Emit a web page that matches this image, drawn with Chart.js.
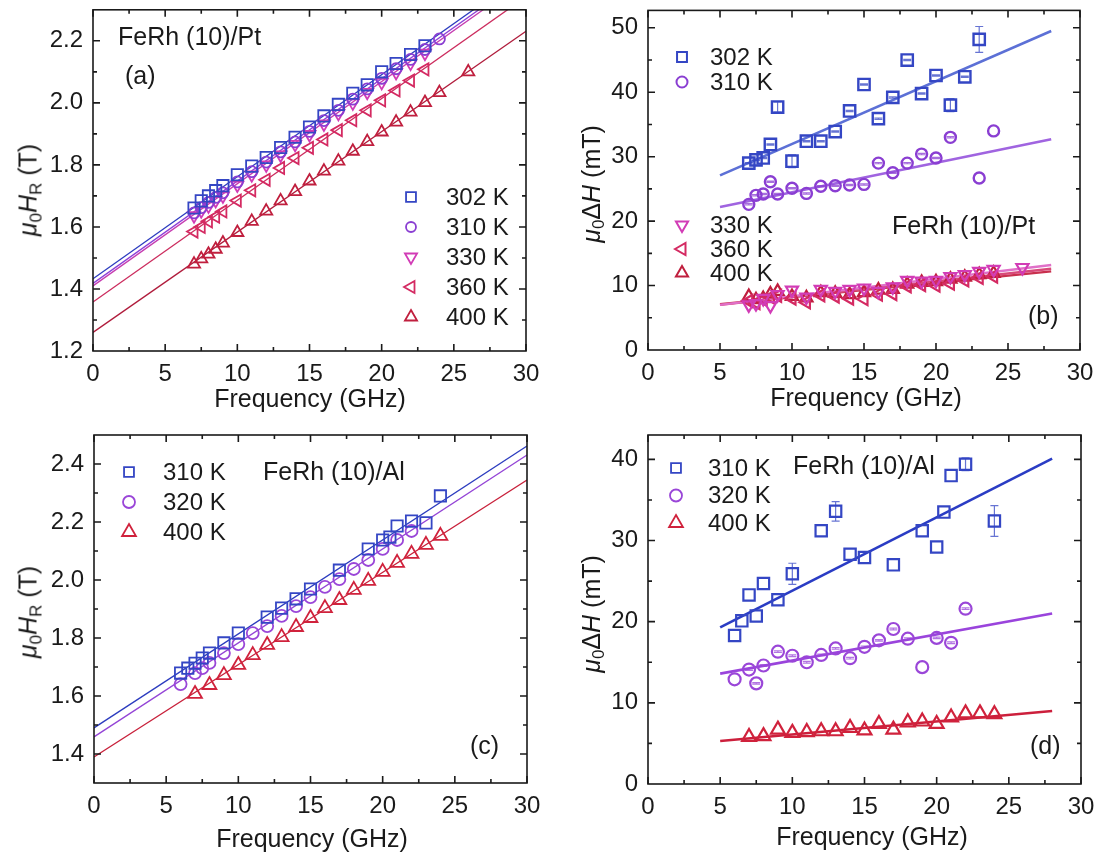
<!DOCTYPE html>
<html>
<head>
<meta charset="utf-8">
<title>FeRh FMR</title>
<script src="https://cdn.jsdelivr.net/npm/chart.js@4.4.1/dist/chart.umd.min.js"></script>
<style>
  body { margin: 0; background: #fff; }
  #page { position: relative; width: 1102px; height: 859px; overflow: hidden;
          font-family: 'Liberation Sans', Arial, sans-serif; color: #1a1a1a; }
  #page canvas { position: absolute; left: 0; top: 0; }
  .ytitle, .xtitle { position: absolute; font-size: 25px; white-space: nowrap; line-height: 1; }
  .ytitle { transform: translate(-50%, -50%) rotate(-90deg); }
  .xtitle { transform: translate(-50%, -50%); }
  sub { font-size: 0.68em; vertical-align: -0.28em; line-height: 0; }
</style>
</head>
<body>
<div id="page">
  <canvas id="panelA" width="1102" height="859"></canvas>
  <canvas id="panelB" width="1102" height="859"></canvas>
  <canvas id="panelC" width="1102" height="859"></canvas>
  <canvas id="panelD" width="1102" height="859"></canvas>

  <div class="ytitle" style="left:28px; top:190px"><i>μ</i><sub>0</sub><i>H</i><sub>R</sub> (T)</div>
  <div class="ytitle" style="left:591px; top:184px"><i>μ</i><sub>0</sub>Δ<i>H</i> (mT)</div>
  <div class="ytitle" style="left:28px; top:612px"><i>μ</i><sub>0</sub><i>H</i><sub>R</sub> (T)</div>
  <div class="ytitle" style="left:591px; top:614px"><i>μ</i><sub>0</sub>Δ<i>H</i> (mT)</div>

  <div class="xtitle" style="left:310px; top:398px">Frequency (GHz)</div>
  <div class="xtitle" style="left:866px; top:397px">Frequency (GHz)</div>
  <div class="xtitle" style="left:312px; top:838px">Frequency (GHz)</div>
  <div class="xtitle" style="left:872px; top:836px">Frequency (GHz)</div>
</div>

<script>
// ---- (a) resonance field, FeRh(10)/Pt ----
const aFreq302 = [7, 7.5, 8, 8.5, 9, 10, 11, 12, 13, 14, 15, 16, 17, 18, 19, 20, 21, 22, 23];
const aHr302   = [1.661, 1.684, 1.700, 1.717, 1.733, 1.768, 1.796, 1.824, 1.856, 1.889, 1.922, 1.958, 1.995, 2.031, 2.058, 2.100, 2.127, 2.156, 2.184];
const aFreq310 = [7, 7.5, 8, 8.5, 9, 10, 11, 12, 13, 14, 15, 16, 17, 18, 19, 20, 21, 22, 23, 24];
const aHr310   = [1.645, 1.662, 1.679, 1.695, 1.710, 1.745, 1.778, 1.809, 1.842, 1.874, 1.908, 1.943, 1.976, 2.012, 2.045, 2.079, 2.110, 2.140, 2.172, 2.206];
const aFreq330 = [7, 7.5, 8, 8.5, 9, 10, 11, 12, 13, 14, 15, 16, 17, 18, 19, 20, 21, 22, 23];
const aHr330   = [1.636, 1.652, 1.668, 1.685, 1.700, 1.735, 1.768, 1.800, 1.832, 1.866, 1.898, 1.932, 1.966, 2.000, 2.034, 2.066, 2.098, 2.128, 2.160];
const aFreq360 = [7, 7.5, 8, 8.5, 9, 10, 11, 12, 13, 14, 15, 16, 17, 18, 19, 20, 21, 22, 23];
const aHr360   = [1.585, 1.600, 1.618, 1.633, 1.650, 1.685, 1.718, 1.752, 1.790, 1.822, 1.855, 1.882, 1.912, 1.944, 1.976, 2.008, 2.040, 2.072, 2.108];
const aFreq400 = [7, 7.5, 8, 8.5, 9, 10, 11, 12, 13, 14, 15, 16, 17, 18, 19, 20, 21, 22, 23, 24, 26];
const aHr400   = [1.480, 1.497, 1.512, 1.528, 1.548, 1.582, 1.618, 1.651, 1.684, 1.714, 1.748, 1.780, 1.812, 1.844, 1.875, 1.906, 1.938, 1.970, 2.001, 2.033, 2.100];
// Kittel fits, value at 0 and 30 GHz
const aFitFreq = [0, 30];
const aFit302 = [1.433, 2.420];
const aFit310 = [1.418, 2.408];
const aFit330 = [1.410, 2.398];
const aFit360 = [1.358, 2.342];
const aFit400 = [1.260, 2.231];
const aXTicks = [0, 5, 10, 15, 20, 25, 30];
const aYTicks = [1.2, 1.4, 1.6, 1.8, 2.0, 2.2];

// ---- (b) linewidth, FeRh(10)/Pt ----
const bFreq302 = [7, 7.5, 8, 8.5, 9, 10, 11, 12, 13, 14, 15, 16, 17, 18, 19, 20, 21, 22, 23];
const bDH302   = [29.0, 29.5, 29.8, 31.9, 37.7, 29.3, 32.4, 32.4, 33.9, 37.1, 41.2, 35.9, 39.2, 45.0, 39.8, 42.6, 38.0, 42.4, 48.2];
const bErr302  = [0.1, 0.1, 0.1, 0.1, 0.8, 1.0, 0.1, 0.1, 0.1, 0.1, 0.1, 0.1, 0.1, 0.1, 0.1, 0.1, 1.0, 0.1, 2.0];
const bFreq310 = [7, 7.5, 8, 8.5, 9, 10, 11, 12, 13, 14, 15, 16, 17, 18, 19, 20, 21, 23, 24];
const bDH310   = [22.6, 24.0, 24.2, 26.1, 24.2, 25.1, 24.3, 25.4, 25.5, 25.6, 25.7, 29.0, 27.5, 29.0, 30.4, 29.8, 33.0, 26.7, 34.0];
const bErr310  = [0.1, 0.1, 0.1, 0.1, 0.1, 0.1, 0.1, 0.1, 0.1, 0.1, 0.1, 0.1, 0.1, 0.1, 0.1, 0.1, 0.1, 0, 0];
const bFreq330 = [7, 7.5, 8, 8.5, 9, 10, 11, 12, 13, 14, 15, 16, 17, 18, 19, 20, 21, 22, 23, 24, 26];
const bDH330   = [7.0, 7.2, 8.0, 6.9, 8.6, 9.3, 8.2, 9.4, 9.1, 9.4, 9.6, 9.1, 9.8, 10.8, 10.7, 10.8, 11.4, 11.7, 12.2, 12.5, 12.8];
const bFreq360 = [7, 7.5, 8, 8.5, 9, 10, 11, 12, 13, 14, 15, 16, 17, 18, 19, 20, 21, 22, 23, 24];
const bDH360   = [7.6, 7.3, 7.8, 8.2, 8.4, 8.0, 7.4, 8.5, 8.3, 8.0, 7.9, 8.6, 8.7, 9.9, 10.1, 10.0, 10.3, 10.8, 11.2, 11.4];
const bFreq400 = [7, 7.5, 8, 8.5, 9, 10, 11, 12, 13, 14, 15, 16, 17, 18, 19, 20, 21, 22, 23, 24];
const bDH400   = [8.3, 7.8, 8.0, 8.7, 9.1, 8.3, 8.1, 8.9, 8.8, 8.6, 8.9, 9.3, 9.4, 10.2, 10.5, 10.6, 11.0, 11.3, 11.7, 11.9];
// linear damping fits, value at 5 and 28 GHz
const bFitFreq = [5, 28];
const bFit302 = [27.1, 49.5];
const bFit310 = [22.2, 32.7];
const bFit330 = [7.0, 13.2];
const bFit360 = [7.0, 12.6];
const bFit400 = [7.1, 12.2];
const bXTicks = [0, 5, 10, 15, 20, 25, 30];
const bYTicks = [0, 10, 20, 30, 40, 50];

// ---- (c) resonance field, FeRh(10)/Al ----
const cFreq310 = [6, 6.5, 7, 7.5, 8, 9, 10, 12, 13, 14, 15, 17, 19, 20, 20.5, 21, 22, 23, 24];
const cHr310   = [1.679, 1.696, 1.713, 1.731, 1.748, 1.783, 1.817, 1.872, 1.903, 1.935, 1.969, 2.034, 2.107, 2.138, 2.148, 2.186, 2.203, 2.197, 2.290];
const cFreq320 = [6, 7, 7.5, 8, 9, 10, 11, 12, 13, 14, 15, 16, 17, 18, 19, 20, 21, 22];
const cHr320   = [1.641, 1.679, 1.696, 1.714, 1.748, 1.779, 1.817, 1.841, 1.876, 1.910, 1.941, 1.976, 2.003, 2.038, 2.069, 2.107, 2.138, 2.169];
const cFreq400 = [7, 8, 9, 10, 11, 12, 13, 14, 15, 16, 17, 18, 19, 20, 21, 22, 23, 24];
const cHr400   = [1.607, 1.638, 1.672, 1.707, 1.741, 1.776, 1.803, 1.838, 1.869, 1.903, 1.931, 1.966, 1.997, 2.028, 2.059, 2.090, 2.121, 2.152];
const cFitFreq = [0, 30];
const cFit310 = [1.490, 2.462];
const cFit320 = [1.459, 2.431];
const cFit400 = [1.390, 2.345];
const cXTicks = [0, 5, 10, 15, 20, 25, 30];
const cYTicks = [1.4, 1.6, 1.8, 2.0, 2.2, 2.4];

// ---- (d) linewidth, FeRh(10)/Al ----
const dFreq310 = [6, 6.5, 7, 7.5, 8, 9, 10, 12, 13, 14, 15, 17, 19, 20, 20.5, 21, 22, 24];
const dDH310   = [18.3, 20.1, 23.3, 20.7, 24.7, 22.7, 25.9, 31.2, 33.6, 28.3, 27.9, 27.0, 31.2, 29.2, 33.5, 38.0, 39.4, 32.4];
const dErr310  = [0, 0, 0, 0, 0, 0, 1.3, 0, 1.2, 0, 0, 0, 0, 0, 0, 0, 0.8, 1.9];
const dFreq320 = [6, 7, 7.5, 8, 9, 10, 11, 12, 13, 14, 15, 16, 17, 18, 19, 20, 21, 22];
const dDH320   = [12.9, 14.1, 12.4, 14.6, 16.3, 15.8, 15.0, 15.9, 16.7, 15.5, 16.9, 17.7, 19.1, 17.9, 14.4, 18.0, 17.4, 21.6];
const dErr320  = [0, 0.1, 0.1, 0.1, 0.1, 0.1, 0.1, 0.1, 0.1, 0.1, 0.1, 0.1, 0.1, 0.1, 0, 0.1, 0.1, 0.1];
const dFreq400 = [7, 8, 9, 10, 11, 12, 13, 14, 15, 16, 17, 18, 19, 20, 21, 22, 23, 24];
const dDH400   = [5.8, 5.9, 6.7, 6.3, 6.4, 6.5, 6.5, 6.9, 6.6, 7.4, 6.7, 7.6, 7.7, 7.4, 8.2, 8.7, 8.7, 8.6];
const dFitFreq = [5, 28];
const dFit310 = [19.3, 40.1];
const dFit320 = [13.6, 21.0];
const dFit400 = [5.3, 9.0];
const dXTicks = [0, 5, 10, 15, 20, 25, 30];
const dYTicks = [0, 10, 20, 30, 40];

const FONT = "'Liberation Sans', Arial, sans-serif";
Chart.defaults.font.family = FONT;
Chart.defaults.color = '#1a1a1a';

function pts(xs, ys) {
  return xs.map((x, i) => ({ x: x, y: ys[i] }));
}

function marks(label, xs, ys, color, style, r, bw, extra) {
  return Object.assign({
    type: 'scatter', label: label, data: pts(xs, ys),
    pointStyle: style, pointRadius: r, pointBorderWidth: bw, borderWidth: bw,
    borderColor: color, pointBorderColor: color,
    backgroundColor: 'rgba(0,0,0,0)', pointBackgroundColor: 'rgba(0,0,0,0)'
  }, extra || {});
}

function fit(xs, ys, color, w) {
  return {
    type: 'line', data: pts(xs, ys), borderColor: color, borderWidth: w,
    pointRadius: 0, tension: 0, fill: false
  };
}

// box frame with inward major/minor ticks on all four sides
const framePlugin = {
  id: 'frame',
  afterDatasetsDraw(chart, args, o) {
    const { ctx, chartArea: a, scales } = chart;
    const sx = scales.x, sy = scales.y;
    const minor = t => {
      const step = t[1] - t[0];
      return t.map(v => v + step / 2);
    };
    ctx.save();
    ctx.strokeStyle = '#1a1a1a';
    ctx.lineWidth = 1.6;
    ctx.strokeRect(a.left, a.top, a.right - a.left, a.bottom - a.top);
    ctx.beginPath();
    const xt = (vals, len) => vals.forEach(v => {
      const p = sx.getPixelForValue(v);
      if (p < a.left - 0.5 || p > a.right + 0.5) return;
      ctx.moveTo(p, a.bottom); ctx.lineTo(p, a.bottom - len);
      ctx.moveTo(p, a.top); ctx.lineTo(p, a.top + len);
    });
    const yt = (vals, len) => vals.forEach(v => {
      const p = sy.getPixelForValue(v);
      if (p < a.top + 1 || p > a.bottom - 1) return;
      ctx.moveTo(a.left, p); ctx.lineTo(a.left + len, p);
      ctx.moveTo(a.right, p); ctx.lineTo(a.right - len, p);
    });
    xt(o.xTicks, 7); xt(minor(o.xTicks), 4);
    yt(o.yTicks, 7); yt(minor(o.yTicks), 4);
    ctx.stroke();
    ctx.restore();
  }
};

const errorBarPlugin = {
  id: 'errbars',
  afterDatasetsDraw(chart) {
    const ctx = chart.ctx, sy = chart.scales.y;
    chart.data.datasets.forEach((ds, i) => {
      if (!ds.errors) return;
      const meta = chart.getDatasetMeta(i);
      ctx.save();
      ctx.strokeStyle = ds.borderColor;
      ctx.globalAlpha = 0.75;
      ctx.lineWidth = 1.2;
      ctx.beginPath();
      meta.data.forEach((el, j) => {
        const e = ds.errors[j];
        if (!e) return;
        const v = ds.data[j].y;
        const y1 = sy.getPixelForValue(v + e), y2 = sy.getPixelForValue(v - e);
        ctx.moveTo(el.x, y1); ctx.lineTo(el.x, y2);
        ctx.moveTo(el.x - 4, y1); ctx.lineTo(el.x + 4, y1);
        ctx.moveTo(el.x - 4, y2); ctx.lineTo(el.x + 4, y2);
      });
      ctx.stroke();
      ctx.restore();
    });
  }
};

// in-plot legend blocks: symbol column plus temperature labels
const keyPlugin = {
  id: 'key',
  afterDraw(chart, args, o) {
    const ctx = chart.ctx;
    ctx.save();
    ctx.font = '24px ' + FONT;
    ctx.textBaseline = 'middle';
    ctx.textAlign = 'left';
    (o.blocks || []).forEach(b => {
      b.items.forEach((idx, k) => {
        const ds = chart.data.datasets[idx];
        const y = b.y + k * b.dy;
        ctx.strokeStyle = ds.borderColor;
        ctx.fillStyle = 'rgba(0,0,0,0)';
        ctx.lineWidth = b.bw;
        Chart.helpers.drawPoint(ctx, {
          pointStyle: ds.pointStyle, rotation: ds.rotation || 0,
          radius: b.r[k], borderWidth: b.bw
        }, b.x, y);
        ctx.fillStyle = '#1a1a1a';
        ctx.fillText(ds.label, b.tx, y + 1);
      });
    });
    ctx.restore();
  }
};

const notesPlugin = {
  id: 'notes',
  afterDraw(chart, args, o) {
    const ctx = chart.ctx;
    ctx.save();
    ctx.font = '25px ' + FONT;
    ctx.fillStyle = '#1a1a1a';
    ctx.textBaseline = 'middle';
    ctx.textAlign = 'left';
    (o.list || []).forEach(n => ctx.fillText(n.text, n.x, n.y));
    ctx.restore();
  }
};

function makePanel(id, area, xTicks, yTicks, yMin, yMax, digits, datasets, blocks, notes) {
  return new Chart(document.getElementById(id), {
    type: 'scatter',
    data: { datasets: datasets },
    options: {
      responsive: false,
      animation: false,
      events: [],
      layout: {
        padding: { left: area.left - 80, right: 1102 - area.right, top: area.top, bottom: 859 - area.bottom - 45 }
      },
      scales: {
        x: {
          type: 'linear', min: xTicks[0], max: xTicks[xTicks.length - 1],
          grid: { display: false, drawTicks: false }, border: { display: false },
          ticks: { padding: 9, font: { size: 24 }, color: '#1a1a1a', autoSkip: false, maxRotation: 0,
                   callback: v => String(v) },
          afterBuildTicks: s => { s.ticks = xTicks.map(v => ({ value: v })); },
          afterFit: s => { s.height = 45; s.paddingLeft = 0; s.paddingRight = 0; }
        },
        y: {
          type: 'linear', min: yMin, max: yMax,
          grid: { display: false, drawTicks: false }, border: { display: false },
          ticks: { padding: 10, font: { size: 24 }, color: '#1a1a1a', autoSkip: false,
                   callback: v => v.toFixed(digits) },
          afterBuildTicks: s => { s.ticks = yTicks.map(v => ({ value: v })); },
          afterFit: s => { s.width = 80; s.paddingTop = 0; s.paddingBottom = 0; }
        }
      },
      plugins: {
        legend: { display: false },
        tooltip: { enabled: false },
        frame: { xTicks: xTicks, yTicks: yTicks },
        key: { blocks: blocks },
        notes: { list: notes }
      }
    },
    plugins: [framePlugin, errorBarPlugin, keyPlugin, notesPlugin]
  });
}

// colours
const BLUE = '#3446c4', VIOLET = '#8a3ed2', MAGENTA = '#d23cb6', ROSE = '#d42a62', CRIMSON = '#c01f3e';
const PURPLE2 = '#9a46d8', RED2 = '#d0223c';

makePanel('panelA', { left: 93, right: 526, top: 3, bottom: 351 }, aXTicks, aYTicks, 1.2, 2.3, 1, [
  marks('302 K', aFreq302, aHr302, BLUE, 'rect', 8, 1.8),
  marks('310 K', aFreq310, aHr310, VIOLET, 'circle', 5.5, 1.8),
  marks('330 K', aFreq330, aHr330, MAGENTA, 'triangle', 7, 1.8, { rotation: 180 }),
  marks('360 K', aFreq360, aHr360, ROSE, 'triangle', 7, 1.8, { rotation: 270 }),
  marks('400 K', aFreq400, aHr400, CRIMSON, 'triangle', 7, 1.8),
  fit(aFitFreq, aFit302, '#2c3cbf', 1.3),
  fit(aFitFreq, aFit310, '#8c40d8', 1.3),
  fit(aFitFreq, aFit330, '#c63cb0', 1.3),
  fit(aFitFreq, aFit360, '#cc2c5e', 1.3),
  fit(aFitFreq, aFit400, '#b01c3c', 1.3)
], [{ items: [0, 1, 2, 3, 4], x: 411, y: 197, dy: 30, tx: 446, r: [7, 5, 7, 7, 7], bw: 1.8 }],
[{ text: 'FeRh (10)/Pt', x: 118, y: 38 }, { text: '(a)', x: 125, y: 77 }]);

makePanel('panelB', { left: 648, right: 1080, top: 3, bottom: 350 }, bXTicks, bYTicks, 0, 52.7, 0, [
  marks('302 K', bFreq302, bDH302, BLUE, 'rect', 8, 2.4, { errors: bErr302 }),
  marks('310 K', bFreq310, bDH310, VIOLET, 'circle', 5.5, 2.4, { errors: bErr310 }),
  marks('330 K', bFreq330, bDH330, MAGENTA, 'triangle', 7, 2.2, { rotation: 180 }),
  marks('360 K', bFreq360, bDH360, ROSE, 'triangle', 7, 2.2, { rotation: 270 }),
  marks('400 K', bFreq400, bDH400, CRIMSON, 'triangle', 7, 2.2),
  fit(bFitFreq, bFit302, '#5c70d6', 2.6),
  fit(bFitFreq, bFit310, '#a064e0', 2.6),
  fit(bFitFreq, bFit330, '#e070c8', 2.4),
  fit(bFitFreq, bFit360, '#d84a7a', 2.4),
  fit(bFitFreq, bFit400, '#c8304e', 2.4)
], [
  { items: [0, 1], x: 682, y: 57, dy: 25, tx: 710, r: [7, 5.5], bw: 2 },
  { items: [2, 3, 4], x: 682, y: 225, dy: 24, tx: 710, r: [7, 7, 7], bw: 2 }
],
[{ text: 'FeRh (10)/Pt', x: 892, y: 227 }, { text: '(b)', x: 1028, y: 317 }]);

makePanel('panelC', { left: 94, right: 527, top: 435, bottom: 783 }, cXTicks, cYTicks, 1.3, 2.5, 1, [
  marks('310 K', cFreq310, cHr310, BLUE, 'rect', 8, 1.8),
  marks('320 K', cFreq320, cHr320, PURPLE2, 'circle', 6, 1.8),
  marks('400 K', cFreq400, cHr400, RED2, 'triangle', 8, 1.8),
  fit(cFitFreq, cFit310, '#2c3cbf', 1.3),
  fit(cFitFreq, cFit320, '#9444d6', 1.3),
  fit(cFitFreq, cFit400, '#c8203a', 1.3)
], [{ items: [0, 1, 2], x: 129, y: 472, dy: 30, tx: 163, r: [7, 6, 8], bw: 1.8 }],
[{ text: 'FeRh (10)/Al', x: 263, y: 473 }, { text: '(c)', x: 470, y: 747 }]);

makePanel('panelD', { left: 648, right: 1081, top: 435, bottom: 784 }, dXTicks, dYTicks, 0, 43, 0, [
  marks('310 K', dFreq310, dDH310, BLUE, 'rect', 8, 2.2, { errors: dErr310 }),
  marks('320 K', dFreq320, dDH320, PURPLE2, 'circle', 6, 2.2, { errors: dErr320 }),
  marks('400 K', dFreq400, dDH400, RED2, 'triangle', 8, 2.2),
  fit(dFitFreq, dFit310, '#2a3cc4', 2.6),
  fit(dFitFreq, dFit320, '#9a44dc', 2.6),
  fit(dFitFreq, dFit400, '#cc1f3c', 2.6)
], [{ items: [0, 1, 2], x: 676, y: 468, dy: 27.5, tx: 708, r: [7, 6, 8], bw: 1.8 }],
[{ text: 'FeRh (10)/Al', x: 793, y: 467 }, { text: '(d)', x: 1030, y: 747 }]);
</script>
</body>
</html>
